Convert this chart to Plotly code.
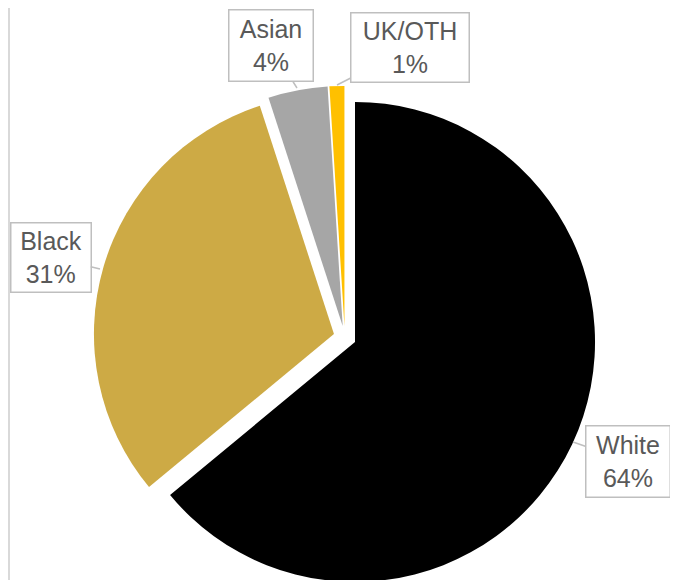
import plotly.graph_objects as go

# Data
categories = ["White", "Black", "Asian", "UK/OTH"]
values = [64, 31, 4, 1]
pct_labels = ["64%", "31%", "4%", "1%"]
colors = ["#000000", "#CDAA45", "#A6A6A6", "#FFC000"]

W, H = 678, 600
OFF = 8  # page body margin offset

fig = go.Figure()
fig.add_trace(go.Pie(
    labels=categories,
    values=values,
    sort=False,
    direction="clockwise",
    rotation=0,
    pull=[0.047] * len(values),
    marker=dict(colors=colors, line=dict(color="white", width=0)),
    textinfo="none",
    hoverinfo="label+percent",
    showlegend=False,
    domain=dict(x=[0.1261, 0.8674], y=[0.0325, 0.8702]),
))

# label callouts: (tip px, box center px, box width, box height) in reference page pixels
callouts = {
    "White": ((573, 442), (627.5, 461), 81, 68),
    "Black": ((100, 269), (50.5, 257.5), 77, 66),
    "Asian": ((297, 88), (270.5, 46), 81, 68),
    "UK/OTH": ((337, 85), (410, 48), 115, 66),
}
for cat, pct in zip(categories, pct_labels):
    (tx, ty), (bx, by), bw, bh = callouts[cat]
    fig.add_annotation(
        x=(tx - OFF) / W, y=1 - (ty - OFF) / H, xref="paper", yref="paper",
        ax=bx - tx, ay=by - ty, axref="pixel", ayref="pixel",
        text=f"{cat}<br>{pct}",
        showarrow=True, arrowhead=0, arrowwidth=1.5, arrowcolor="#BFBFBF",
        standoff=0, startstandoff=0,
        font=dict(family="Arial, Liberation Sans, sans-serif", size=25, color="#595959"),
        bgcolor="white", bordercolor="#BFBFBF", borderwidth=1.5, borderpad=1,
        width=bw, height=bh, align="center", valign="middle",
    )

fig.add_shape(type="line", xref="paper", yref="paper",
              x0=(9 - OFF) / W, x1=(9 - OFF) / W, y0=0, y1=1,
              line=dict(color="#D9D9D9", width=2))

fig.update_layout(
    width=W, height=H,
    margin=dict(l=0, r=0, t=0, b=0),
    paper_bgcolor="white", plot_bgcolor="white",
)

fig.write_html("out.html")
